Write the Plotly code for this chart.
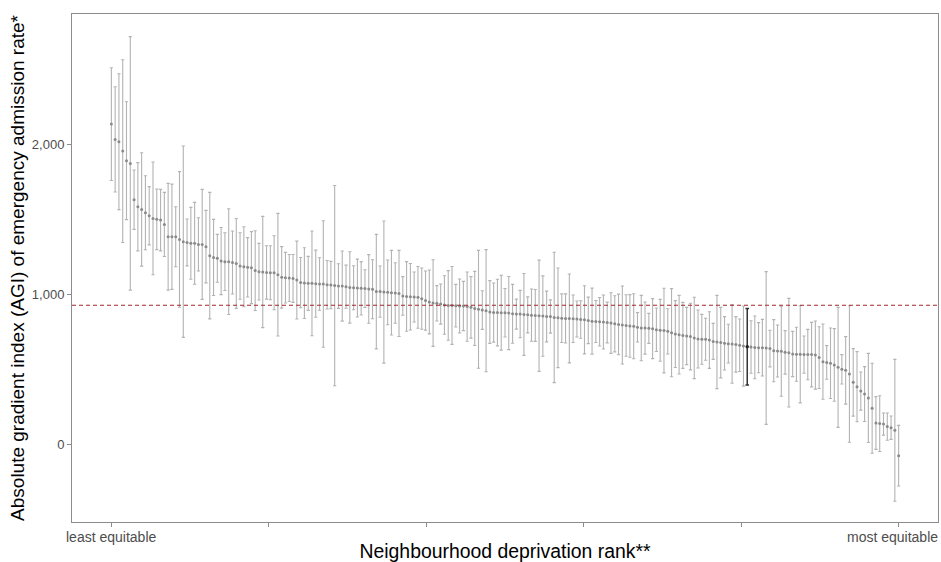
import plotly.graph_objects as go

# AGI estimates ordered by rank (least equitable -> most equitable)
agi = [
    2133, 2031, 2016, 1953, 1889, 1871, 1629, 1582, 1564, 1542,
    1522, 1504, 1498, 1493, 1464, 1382, 1382, 1382, 1364, 1349,
    1344, 1338, 1338, 1331, 1331, 1316, 1256, 1244, 1238, 1220,
    1216, 1216, 1210, 1204, 1187, 1182, 1178, 1176, 1156, 1149,
    1147, 1144, 1142, 1142, 1129, 1111, 1109, 1107, 1104, 1093,
    1076, 1073, 1071, 1071, 1069, 1067, 1067, 1062, 1060, 1056,
    1053, 1053, 1049, 1044, 1042, 1040, 1038, 1036, 1034, 1032,
    1016, 1016, 1013, 1011, 1009, 1007, 1004, 987, 984, 982,
    980, 978, 969, 956, 947, 940, 938, 933, 927, 924,
    924, 922, 920, 920, 916, 911, 904, 898, 893, 889,
    880, 876, 876, 875, 875, 873, 868, 866, 866, 864,
    861, 859, 857, 855, 853, 850, 850, 844, 841, 839,
    837, 837, 835, 833, 830, 828, 824, 819, 817, 815,
    813, 810, 806, 801, 797, 793, 790, 787, 785, 778,
    773, 773, 771, 769, 762, 758, 756, 751, 742, 733,
    729, 724, 720, 716, 707, 700, 698, 698, 693, 684,
    680, 676, 671, 669, 667, 664, 658, 653, 649, 647,
    644, 642, 642, 640, 636, 622, 620, 618, 611, 609,
    600, 598, 598, 596, 596, 596, 593, 576, 549, 544,
    538, 527, 511, 498, 491, 467, 411, 382, 353, 333,
    307, 238, 140, 136, 133, 116, 109, 91, -78,
]

# 95% CI half-widths
ci_half = [
    376, 351, 453, 609, 393, 845, 198, 294, 378, 247,
    194, 376, 202, 205, 214, 356, 351, 200, 452, 638,
    156, 240, 273, 178, 367, 242, 422, 254, 160, 224,
    193, 353, 210, 300, 222, 267, 198, 240, 266, 189,
    371, 178, 180, 247, 409, 205, 169, 157, 160, 260,
    168, 236, 180, 349, 224, 175, 422, 162, 158, 668,
    149, 234, 144, 238, 147, 193, 178, 126, 229, 197,
    382, 171, 474, 216, 282, 202, 287, 129, 232, 222,
    167, 206, 204, 197, 213, 289, 118, 134, 195, 232,
    260, 142, 180, 164, 231, 205, 247, 393, 129, 407,
    209, 197, 222, 249, 162, 244, 196, 100, 158, 273,
    120, 174, 173, 371, 268, 169, 111, 435, 332, 162,
    164, 296, 158, 120, 125, 227, 155, 220, 140, 162,
    180, 136, 202, 187, 202, 260, 205, 209, 217, 98,
    218, 174, 100, 200, 145, 206, 282, 151, 294, 223,
    262, 220, 191, 222, 271, 193, 166, 140, 189, 120,
    311, 235, 178, 129, 262, 185, 175, 267, 255, 175,
    209, 167, 189, 509, 122, 207, 173, 300, 145, 362,
    151, 180, 324, 124, 168, 215, 227, 206, 251, 112,
    235, 242, 400, 98, 225, 455, 225, 234, 127, 183,
    297, 300, 176, 186, 74, 91, 78, 473, 202,
]

highlight_rank = 169
mean_agi = 925
x_end_labels = ["least equitable", "most equitable"]

n = len(agi)
ranks = list(range(1, n + 1))
hi = highlight_rank - 1
other_idx = [i for i in range(n) if i != hi]

fig = go.Figure()
fig.add_trace(go.Scatter(
    x=[ranks[i] for i in other_idx],
    y=[agi[i] for i in other_idx],
    mode="markers",
    marker=dict(size=3, color="#8a8a8a"),
    error_y=dict(type="data", array=[ci_half[i] for i in other_idx],
                 symmetric=True, color="#b3b3b3", thickness=1.1, width=1.6),
    showlegend=False,
    hoverinfo="x+y",
))
fig.add_trace(go.Scatter(
    x=[ranks[hi]], y=[agi[hi]],
    mode="markers",
    marker=dict(size=3.5, color="#222222"),
    error_y=dict(type="data", array=[ci_half[hi]], symmetric=True,
                 color="#333333", thickness=1.5, width=1.8),
    showlegend=False,
))

fig.add_hline(y=mean_agi, line=dict(color="#a3282e", width=1.2, dash="4px,3px"))

step = (n - 1) / 5
tickvals = [1 + step * k for k in range(6)]
pad = (n - 1) * 0.05

label_font = dict(size=14, color="#4d4d4d", family="Liberation Sans, Arial, sans-serif")
fig.add_annotation(text=x_end_labels[0], x=1, xref="x", y=0, yref="paper",
                   xanchor="center", yanchor="top", yshift=-5, showarrow=False,
                   font=label_font)
fig.add_annotation(text=x_end_labels[1], x=1, xref="paper", y=0, yref="paper",
                   xanchor="right", yanchor="top", yshift=-5, xshift=2, showarrow=False,
                   font=label_font)

fig.update_layout(
    width=941, height=562,
    margin=dict(l=72, r=3, t=14, b=40, autoexpand=False),
    paper_bgcolor="white", plot_bgcolor="white",
    font=dict(family="Liberation Sans, Arial, sans-serif", color="#000000"),
    xaxis=dict(
        range=[1 - pad, n + pad],
        tickvals=tickvals, ticktext=[""] * 6,
        showgrid=False, zeroline=False, automargin=False,
        showline=True, mirror=True, linecolor="#8c8c8c", linewidth=1,
        ticks="outside", ticklen=4, tickcolor="#8c8c8c",
        tickfont=dict(size=14, color="#4d4d4d"),
        title=dict(text="Neighbourhood deprivation rank**", font=dict(size=19.4), standoff=15),
    ),
    yaxis=dict(
        range=[-520, 2867],
        tickvals=[0, 1000, 2000], ticktext=["0", "1,000", "2,000"],
        showgrid=False, zeroline=False, automargin=False,
        showline=True, mirror=True, linecolor="#8c8c8c", linewidth=1,
        ticks="outside", ticklen=4, tickcolor="#8c8c8c",
        tickfont=dict(size=13, color="#4d4d4d"),
        title=dict(text="Absolute gradient index (AGI) of emergency admission rate*",
                   font=dict(size=19), standoff=2),
    ),
)

fig.write_html("out.html")
